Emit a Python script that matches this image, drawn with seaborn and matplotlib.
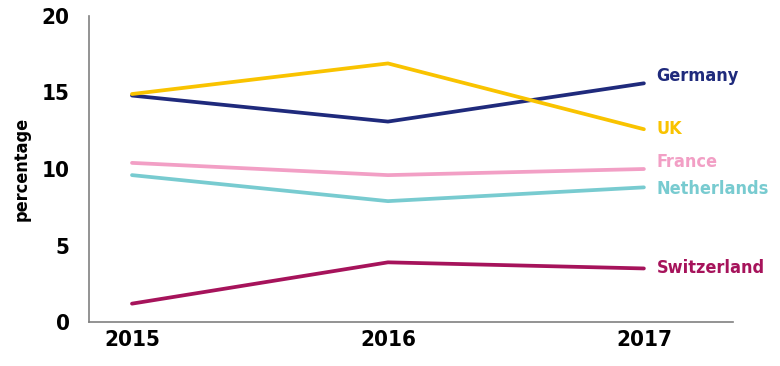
import matplotlib
matplotlib.use("Agg")
import matplotlib.pyplot as plt
import seaborn as sns
import pandas as pd

years = [2015, 2016, 2017]
countries = ["Germany", "UK", "France", "Netherlands", "Switzerland"]
germany = [14.8, 13.1, 15.6]
uk = [14.9, 16.9, 12.6]
france = [10.4, 9.6, 10.0]
netherlands = [9.6, 7.9, 8.8]
switzerland = [1.2, 3.9, 3.5]
colors = ["#1f2a7c", "#f9c300", "#f29fc5", "#78cbd0", "#a6135b"]


def main():
    series = [germany, uk, france, netherlands, switzerland]
    rows = []
    for name, vals in zip(countries, series):
        for yr, v in zip(years, vals):
            rows.append({"year": yr, "country": name, "value": v})
    df = pd.DataFrame(rows)

    sns.set_style("white")
    plt.rcParams['font.family'] = ['DejaVu Sans']
    plt.rcParams['font.stretch'] = 'condensed'
    plt.rcParams['font.weight'] = 'bold'
    plt.rcParams['text.color'] = 'black'
    plt.rcParams['axes.labelcolor'] = 'black'
    plt.rcParams['xtick.labelcolor'] = 'black'
    plt.rcParams['ytick.labelcolor'] = 'black'

    fig = plt.figure(figsize=(7.8, 3.66), dpi=100)
    ax = fig.add_axes([0.1141, 0.1202, 0.8256, 0.8361])

    palette = dict(zip(countries, colors))
    sns.lineplot(data=df, x="year", y="value", hue="country", palette=palette,
                 linewidth=2.7, legend=False, ax=ax, solid_capstyle="round")

    # labels at the end of each line
    offsets = {"Germany": 5, "UK": 0, "France": 5, "Netherlands": -1, "Switzerland": 0}
    for name, vals in zip(countries, series):
        ax.annotate(name, xy=(years[-1], vals[-1]), xytext=(9, offsets[name]),
                    textcoords="offset points", color=palette[name],
                    fontsize=13, fontweight="bold", fontstretch="condensed",
                    va="center", ha="left")

    ax.set_xlim(2014.832, 2017.348)
    ax.set_ylim(0, 20)
    ax.set_xticks(years)
    ax.set_yticks([0, 5, 10, 15, 20])
    ax.set_xticklabels([str(y) for y in years])
    ax.set_xlabel("")
    ax.set_ylabel("percentage", fontsize=13, fontweight="bold", labelpad=8)

    for s in ["top", "right"]:
        ax.spines[s].set_visible(False)
    for s in ["left", "bottom"]:
        ax.spines[s].set_color("#808080")
        ax.spines[s].set_linewidth(1.2)
    ax.tick_params(axis="y", direction="out", length=8, width=1, color="#808080",
                   labelsize=16, pad=6)
    ax.tick_params(axis="x", direction="in", length=7, width=1, color="#808080",
                   labelsize=16, pad=6)
    for lab in ax.get_xticklabels() + ax.get_yticklabels():
        lab.set_fontweight("bold")
        lab.set_fontstretch("condensed")

    fig.savefig("out.png", dpi=100)
    plt.close(fig)


if __name__ == '__main__':
    main()
